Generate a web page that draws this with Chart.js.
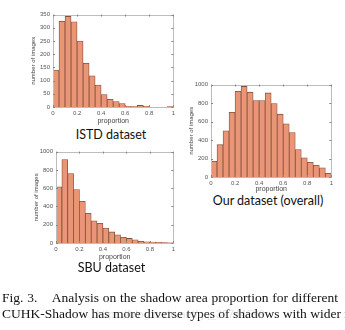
<!DOCTYPE html>
<html>
<head>
<meta charset="utf-8">
<script src="https://cdn.jsdelivr.net/npm/chart.js@4/dist/chart.umd.min.js"></script>
<style>
  body { margin: 0; width: 345px; height: 330px; background: #fff; overflow: hidden; position: relative; }
  canvas { position: absolute; }
  .name { position: absolute; font-family: Lato, sans-serif; font-size: 12.5px; color: #111; white-space: nowrap; transform: translateX(-50%); }
  .cap { position: absolute; left: 2px; font-family: "Liberation Serif", serif; font-size: 13.5px; color: #111; white-space: nowrap; }
  .mark { position: absolute; font-family: "Liberation Sans", sans-serif; font-size: 11px; color: rgba(150,150,150,0.25); white-space: nowrap; }
</style>
</head>
<body>
<canvas id="istd" width="148" height="117" style="left:30px;top:8px"></canvas>
<canvas id="sbu" width="145" height="116" style="left:33px;top:145px"></canvas>
<canvas id="ours" width="148" height="115" style="left:188px;top:78px"></canvas>
<div class="name" style="left:111px;top:127px">ISTD dataset</div>
<div class="name" style="left:111.5px;top:260px">SBU dataset</div>
<div class="name" style="left:268px;top:193px">Our dataset (overall)</div>
<div class="cap" style="top:290px;word-spacing:0.4px">Fig. 3.&nbsp;&nbsp;&nbsp; Analysis on the shadow area proportion for different</div>
<div class="cap" style="top:306px">CUHK-Shadow has more diverse types of shadows with wider r</div>
<div class="mark" style="left:96px;top:308px">https://blog.csdn.net/qq_36744599</div>
<script>
// histogram bins: 20 bins of width 0.05 over [0, 1]
var binCenters = [0.025, 0.075, 0.125, 0.175, 0.225, 0.275, 0.325, 0.375, 0.425, 0.475,
                  0.525, 0.575, 0.625, 0.675, 0.725, 0.775, 0.825, 0.875, 0.925, 0.975];
var xTicks = [0, 0.2, 0.4, 0.6, 0.8, 1];

var istdCounts = [140, 325, 343, 323, 250, 166, 118, 83, 47, 29, 21, 13, 3, 2, 6, 3, 0, 0, 0, 2];
var istdTicks = [0, 50, 100, 150, 200, 250, 300, 350];

var sbuCounts = [615, 914, 760, 585, 457, 325, 243, 216, 164, 121, 89, 62, 50, 36, 19, 14, 10, 7, 4, 1];
var sbuTicks = [0, 200, 400, 600, 800, 1000];

var oursCounts = [170, 350, 500, 700, 928, 980, 918, 828, 828, 910, 795, 680, 575, 480, 298, 207, 160, 126, 100, 40];
var oursTicks = [0, 200, 400, 600, 800, 1000];

var barFill = '#ea9575';
var barEdge = '#80513f';
var boxColor = '#bdbdbd';

// closes the axes box and puts small inward ticks on every side
var boxPlugin = {
  id: 'box',
  afterDraw: function(chart) {
    var a = chart.chartArea, ctx = chart.ctx;
    var xs = chart.scales.x, ys = chart.scales.y;
    ctx.save();
    ctx.strokeStyle = boxColor;
    ctx.lineWidth = 1;
    ctx.strokeRect(Math.round(a.left) + 0.5, Math.round(a.top) + 0.5,
      Math.round(a.right - a.left), Math.round(a.bottom - a.top));
    ctx.strokeStyle = '#888';
    ctx.beginPath();
    xs.ticks.forEach(function(t) {
      var px = Math.round(xs.getPixelForValue(t.value)) + 0.5;
      ctx.moveTo(px, a.top); ctx.lineTo(px, a.top + 2);
      ctx.moveTo(px, a.bottom); ctx.lineTo(px, a.bottom - 2);
    });
    ys.ticks.forEach(function(t) {
      var py = Math.round(ys.getPixelForValue(t.value)) + 0.5;
      ctx.moveTo(a.left, py); ctx.lineTo(a.left + 2, py);
      ctx.moveTo(a.right, py); ctx.lineTo(a.right - 2, py);
    });
    ctx.stroke();
    ctx.restore();
  }
};

function histogram(id, counts, yTicks, yWidth, xHeight, padRight) {
  var points = binCenters.map(function(c, i) { return { x: c, y: counts[i] }; });
  var tickFont = { family: 'Liberation Sans', size: 6 };
  return new Chart(document.getElementById(id), {
    type: 'bar',
    data: {
      datasets: [{
        data: points,
        backgroundColor: barFill,
        borderColor: barEdge,
        borderWidth: 0.8,
        barPercentage: 1,
        categoryPercentage: 1
      }]
    },
    options: {
      responsive: false,
      animation: false,
      layout: { padding: { top: 4, right: padRight, left: 0, bottom: 0 } },
      plugins: { legend: { display: false }, tooltip: { enabled: false } },
      scales: {
        x: {
          type: 'linear', min: 0, max: 1, offset: false,
          afterBuildTicks: function(s) { s.ticks = xTicks.map(function(v) { return { value: v }; }); },
          afterFit: function(s) { s.height = xHeight; },
          grid: { display: false, drawTicks: false },
          border: { display: false },
          ticks: { font: tickFont, color: '#555', padding: 3, maxRotation: 0,
                   callback: function(v) { return String(v); } },
          title: { display: true, text: 'proportion', font: { family: 'Liberation Sans', size: 7 },
                   color: '#444', padding: { top: 0, bottom: 0 } }
        },
        y: {
          min: 0, max: yTicks[yTicks.length - 1],
          afterBuildTicks: function(s) { s.ticks = yTicks.map(function(v) { return { value: v }; }); },
          afterFit: function(s) { s.width = yWidth; },
          grid: { display: false, drawTicks: false },
          border: { display: false },
          ticks: { font: tickFont, color: '#555', padding: 3,
                   callback: function(v) { return String(v); } },
          title: { display: true, text: 'number of images', font: { family: 'Liberation Sans', size: 6 },
                   color: '#444', padding: { top: 0, bottom: 0 } }
        }
      }
    },
    plugins: [boxPlugin]
  });
}

histogram('istd', istdCounts, istdTicks, 23, 18, 2);
histogram('sbu', sbuCounts, sbuTicks, 23, 18, 2);
histogram('ours', oursCounts, oursTicks, 23, 16, 2);
</script>
</body>
</html>
